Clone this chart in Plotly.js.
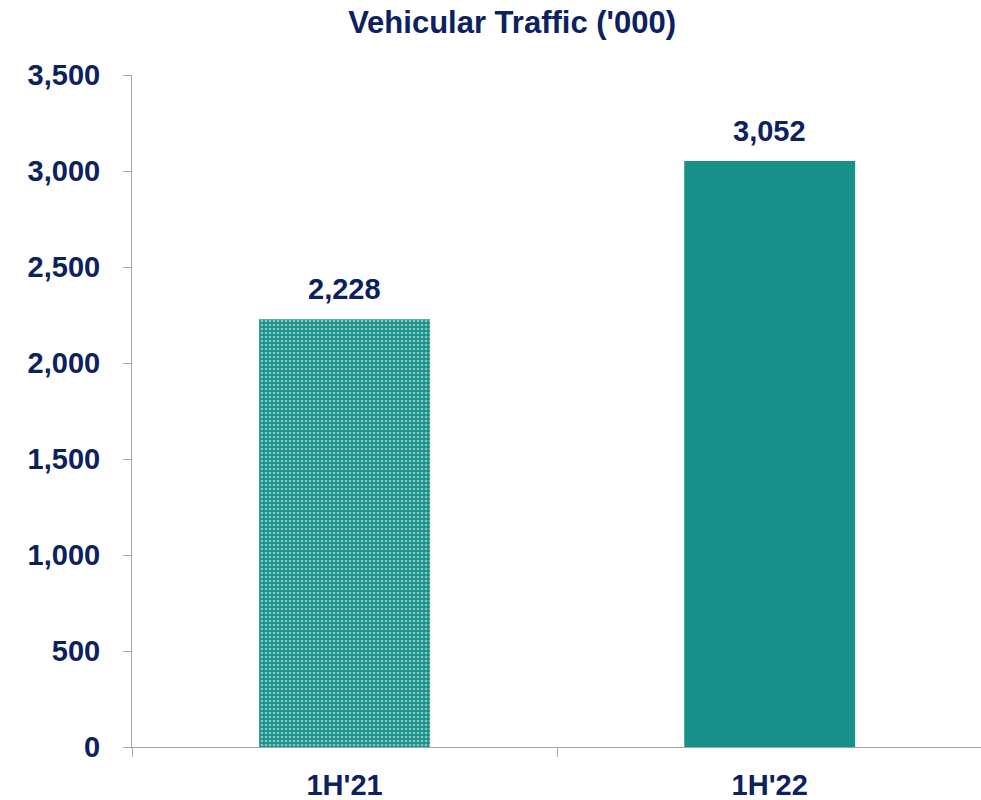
<!DOCTYPE html>
<html>
<head>
<meta charset="utf-8">
<script src="https://cdn.plot.ly/plotly-3.0.1.min.js"></script>
<style>html,body{margin:0;padding:0;background:#fff;}#chart{width:981px;height:800px;}</style>
</head>
<body>
<div id="chart"></div>
<script>
const categories = ["1H'21", "1H'22"];
const values = [2228, 3052];
const labels = ["2,228", "3,052"];
const yTicks = [0, 500, 1000, 1500, 2000, 2500, 3000, 3500];

const navy = "#0B2160";
const teal = "#17918A";
const font = "Arial, 'Liberation Sans', sans-serif";

const trace = {
  type: "bar",
  x: categories,
  y: values,
  width: 0.402,
  marker: {
    color: [teal, teal],
    line: {width: 0},
    pattern: {
      shape: [".", ""],
      fgcolor: "#ffffff",
      bgcolor: teal,
      size: 4,
      solidity: 0.35,
      fillmode: "overlay"
    }
  },
  hoverinfo: "none"
};

const annotations = categories.map((c, i) => ({
  x: c,
  y: values[i],
  xref: "x",
  yref: "y",
  text: "<b>" + labels[i] + "</b>",
  showarrow: false,
  yanchor: "bottom",
  yshift: 12,
  font: {family: font, size: 29, color: navy}
}));

const layout = {
  width: 981,
  height: 800,
  margin: {l: 132, r: 0, t: 75, b: 53},
  paper_bgcolor: "#ffffff",
  plot_bgcolor: "#ffffff",
  showlegend: false,
  title: {
    text: "<b>Vehicular Traffic ('000)</b>",
    font: {family: font, size: 31, color: navy},
    x: 0.522, xanchor: "center",
    y: 0.972, yanchor: "middle"
  },
  annotations: annotations,
  xaxis: {
    type: "category",
    range: [-0.5, 1.497],
    showline: true,
    linecolor: "#a6a6a6",
    linewidth: 1,
    ticks: "outside",
    tickson: "boundaries",
    ticklen: 9,
    tickcolor: "#a6a6a6",
    showgrid: false,
    tickfont: {family: font, size: 29, color: navy, weight: "bold"},
    ticklabelstandoff: 12
  },
  yaxis: {
    range: [0, 3500],
    tickvals: yTicks,
    tickformat: ",",
    showline: true,
    linecolor: "#a6a6a6",
    linewidth: 1,
    ticks: "outside",
    ticklen: 8,
    tickcolor: "#a6a6a6",
    showgrid: false,
    zeroline: false,
    tickfont: {family: font, size: 29, color: navy, weight: "bold"},
    ticklabelstandoff: 17
  },
  bargap: 0.6
};

Plotly.newPlot("chart", [trace], layout, {displayModeBar: false, staticPlot: true});
</script>
</body>
</html>
